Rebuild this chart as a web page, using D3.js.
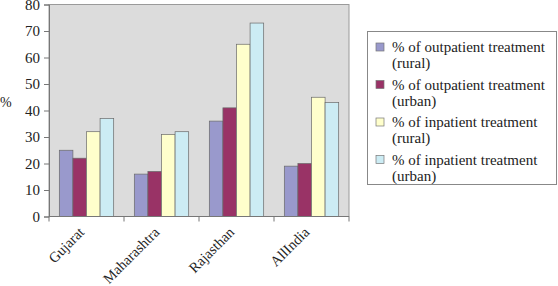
<!DOCTYPE html>
<html>
<head>
<meta charset="utf-8">
<script src="https://cdn.jsdelivr.net/npm/d3@7"></script>
<style>
  body { margin: 0; background: #fff; }
  svg text { font-family: "Liberation Serif", serif; fill: #222; }
</style>
</head>
<body>
<svg id="chart" width="558" height="286"></svg>
<script>
// values
var regions = ["Gujarat", "Maharashtra", "Rajasthan", "AllIndia"];
var seriesNames = [
    ["% of outpatient treatment", "(rural)"],
    ["% of outpatient treatment", "(urban)"],
    ["% of inpatient treatment", "(rural)"],
    ["% of inpatient treatment", "(urban)"]
];
var outRural = [25, 16, 36, 19];
var outUrban = [22, 17, 41, 20];
var inRural = [32, 31, 65, 45];
var inUrban = [37, 32, 73, 43];
var yTicks = [0, 10, 20, 30, 40, 50, 60, 70, 80];
var colors = ["#9999cc", "#993366", "#ffffcc", "#ccecf4"];

var allSeries = [outRural, outUrban, inRural, inUrban];

var svg = d3.select("#chart");
var plotLeft = 49, plotRight = 349, plotTop = 4.5, plotBottom = 216.5;

var x = d3.scaleBand()
    .domain(regions)
    .range([plotLeft, plotRight])
    .paddingInner(0)
    .paddingOuter(0);

var xInner = d3.scaleBand()
    .domain(d3.range(allSeries.length))
    .range([0, x.bandwidth()])
    .paddingOuter(0.76)
    .paddingInner(0);

var y = d3.scaleLinear()
    .domain([0, 80])
    .range([plotBottom, plotTop]);

// plot area background
svg.append("rect")
    .attr("x", plotLeft)
    .attr("y", plotTop)
    .attr("width", plotRight - plotLeft)
    .attr("height", plotBottom - plotTop)
    .style("fill", "#dcdcdc")
    .style("stroke", "#9a9a9a")
    .style("stroke-width", 1);

// bars
var groups = svg.append("g").selectAll("g")
    .data(regions)
    .enter()
  .append("g")
    .attr("transform", function (d) { return "translate(" + x(d) + ",0)"; });

groups.selectAll("rect")
    .data(function (d, i) {
        return allSeries.map(function (s, j) { return { series: j, value: s[i] }; });
    })
    .enter()
  .append("rect")
    .attr("x", function (d) { return xInner(d.series); })
    .attr("y", function (d) { return y(d.value); })
    .attr("width", xInner.bandwidth())
    .attr("height", function (d) { return y(0) - y(d.value); })
    .style("fill", function (d) { return colors[d.series]; })
    .style("stroke", "#6a6a6a")
    .style("stroke-width", 0.7);

// y axis
var yAxis = d3.axisLeft(y)
    .tickValues(yTicks)
    .tickSize(5)
    .tickPadding(4);
var yg = svg.append("g")
    .attr("transform", "translate(" + plotLeft + ",0)")
    .call(yAxis);
yg.select(".domain").style("stroke", "#777");
yg.selectAll(".tick line").style("stroke", "#777");
yg.selectAll("text")
    .style("font-size", "15px")
    .style("font-family", "'Liberation Serif', serif")
    .style("fill", "#222");

// x axis: ticks at category boundaries
var xg = svg.append("g")
    .attr("transform", "translate(0," + plotBottom + ")");
xg.append("line")
    .attr("x1", plotLeft).attr("x2", plotRight)
    .style("stroke", "#777");
xg.selectAll("line.bound")
    .data(regions.concat(["end"]))
    .enter()
  .append("line")
    .attr("class", "bound")
    .attr("x1", function (d, i) { return plotLeft + i * x.step(); })
    .attr("x2", function (d, i) { return plotLeft + i * x.step(); })
    .attr("y1", 0).attr("y2", 5)
    .style("stroke", "#777");

svg.append("g").selectAll("text")
    .data(regions)
    .enter()
  .append("text")
    .attr("transform", function (d) {
        return "translate(" + (x(d) + x.bandwidth() / 2 - 9) + "," + (plotBottom + 9) + ") rotate(-45)";
    })
    .attr("text-anchor", "end")
    .attr("dy", "0.75em")
    .style("font-size", "14.5px")
    .text(function (d) { return d; });

// y label
svg.append("text")
    .attr("x", 0)
    .attr("y", 107)
    .style("font-size", "14px")
    .text("%");

// legend
var legend = svg.append("g");
legend.append("rect")
    .attr("x", 367.5)
    .attr("y", 31.5)
    .attr("width", 189)
    .attr("height", 153)
    .style("fill", "#fff")
    .style("stroke", "#888");

var items = legend.selectAll("g.item")
    .data(seriesNames)
    .enter()
  .append("g")
    .attr("class", "item")
    .attr("transform", function (d, i) { return "translate(376," + (47 + i * 37.5) + ")"; });

items.append("rect")
    .attr("x", 0).attr("y", -4)
    .attr("width", 8).attr("height", 8)
    .style("fill", function (d, i) { return colors[i]; })
    .style("stroke", "#777")
    .style("stroke-width", 0.7);

items.append("text")
    .attr("x", 16)
    .attr("y", 5)
    .style("font-size", "15px")
    .text(function (d) { return d[0]; });
items.append("text")
    .attr("x", 16)
    .attr("y", 21)
    .style("font-size", "15px")
    .text(function (d) { return d[1]; });
</script>
</body>
</html>
